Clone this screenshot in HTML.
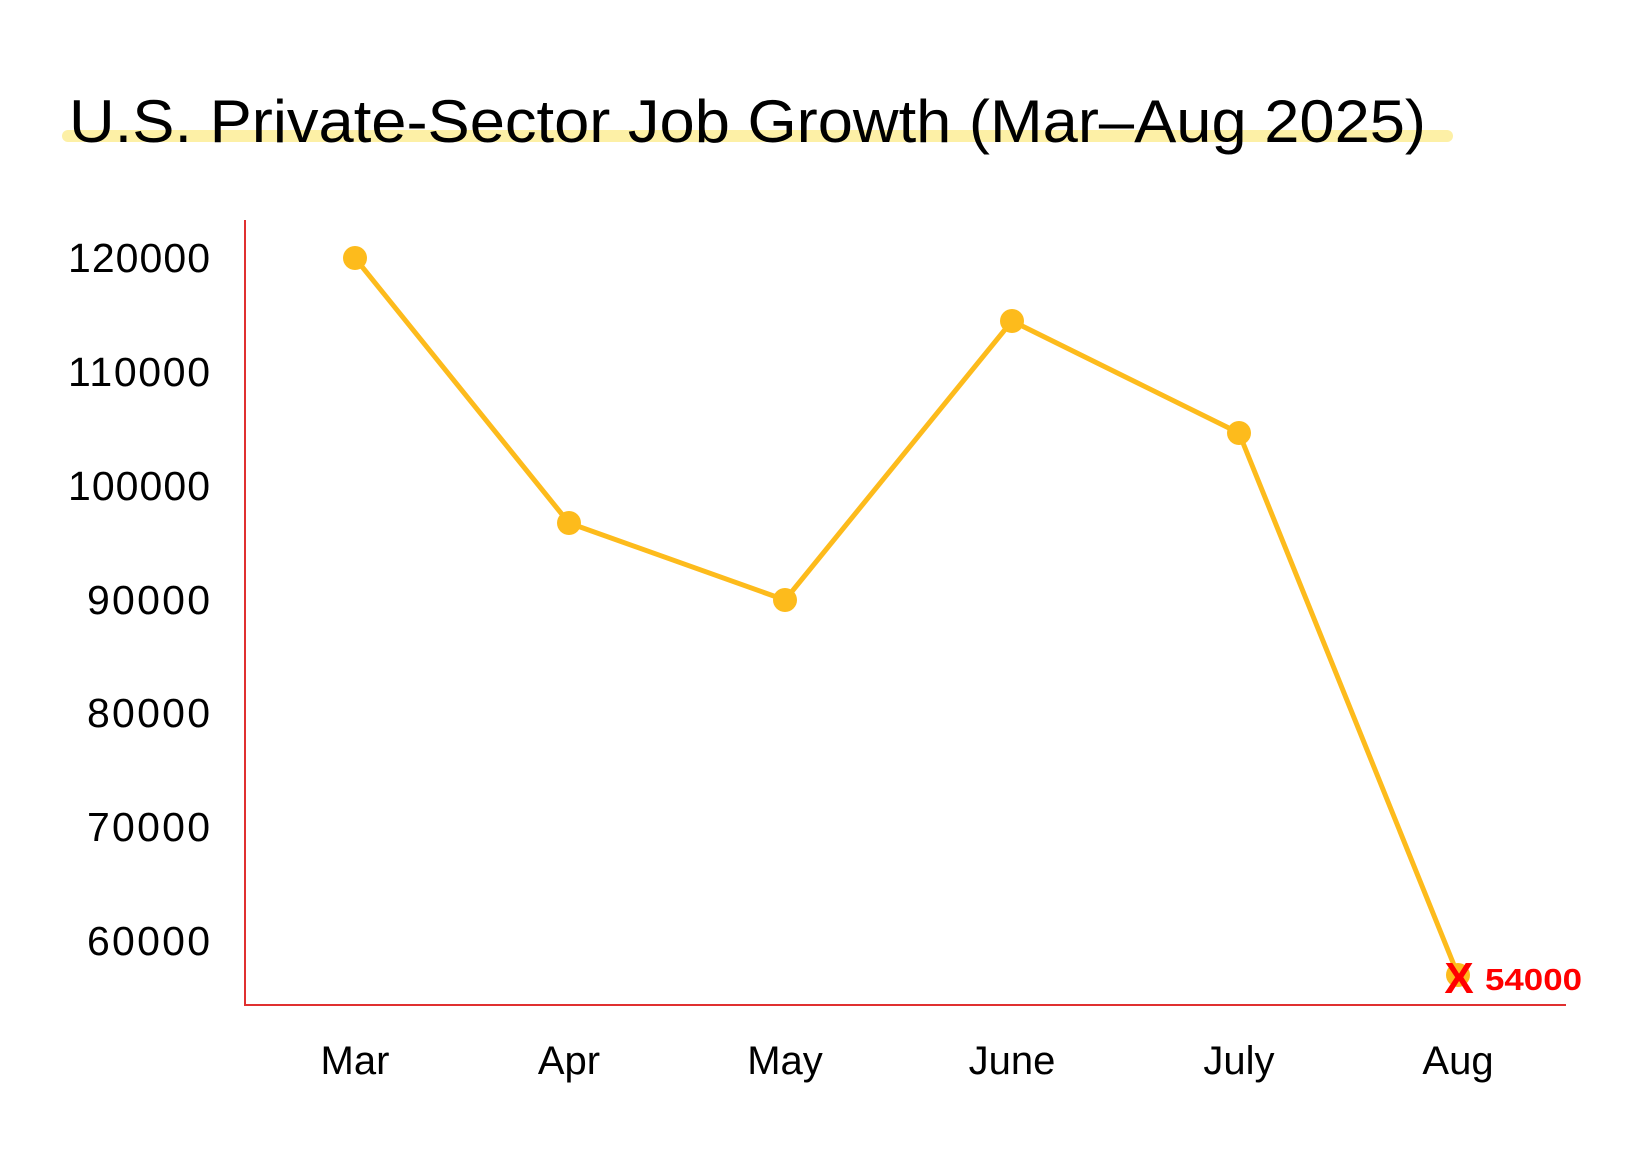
<!DOCTYPE html>
<html><head><meta charset="utf-8"><style>html,body{margin:0;padding:0;background:#fff}</style></head>
<body>
<svg width="1638" height="1168" viewBox="0 0 1638 1168" xmlns="http://www.w3.org/2000/svg" font-family="Liberation Sans, sans-serif">
<rect width="1638" height="1168" fill="#fff"/>
<line x1="68" y1="136" x2="1447" y2="136" stroke="#fdf0a6" stroke-width="12" stroke-linecap="round"/>
<text x="69" y="142" font-size="60" fill="#000" textLength="1357" lengthAdjust="spacingAndGlyphs">U.S. Private-Sector Job Growth (Mar–Aug 2025)</text>
<line x1="245" y1="220" x2="245" y2="1005" stroke="#e03030" stroke-width="2"/>
<line x1="244" y1="1005" x2="1566" y2="1005" stroke="#e03030" stroke-width="2"/>
<g font-size="41" fill="#000" text-anchor="end" lengthAdjust="spacingAndGlyphs">
<text x="210" y="272" textLength="142">120000</text>
<text x="210" y="386" textLength="142">110000</text>
<text x="210" y="500" textLength="142">100000</text>
<text x="210" y="614" textLength="123">90000</text>
<text x="210" y="727" textLength="123">80000</text>
<text x="210" y="841" textLength="123">70000</text>
<text x="210" y="955" textLength="123">60000</text>
</g>
<g font-size="40" fill="#000" text-anchor="middle">
<text x="355" y="1074">Mar</text>
<text x="569" y="1074">Apr</text>
<text x="785" y="1074">May</text>
<text x="1012" y="1074">June</text>
<text x="1239" y="1074">July</text>
<text x="1458" y="1074">Aug</text>
</g>
<polyline points="355,258 569,523 785,600 1012,321 1239,433 1458,975" fill="none" stroke="#fdbb1c" stroke-width="5" stroke-linejoin="round"/>
<g fill="#fdbb1c">
<circle cx="355" cy="258" r="12"/><circle cx="569" cy="523" r="12"/><circle cx="785" cy="600" r="12"/>
<circle cx="1012" cy="321" r="12"/><circle cx="1239" cy="433" r="12"/><circle cx="1458" cy="975" r="12"/>
</g>
<text x="1459" y="993" font-size="44" font-weight="bold" fill="#ff0000" text-anchor="middle">X</text>
<text x="1485" y="990" font-size="31" font-weight="bold" fill="#ff0000" textLength="97" lengthAdjust="spacingAndGlyphs">54000</text>
</svg>
</body></html>
